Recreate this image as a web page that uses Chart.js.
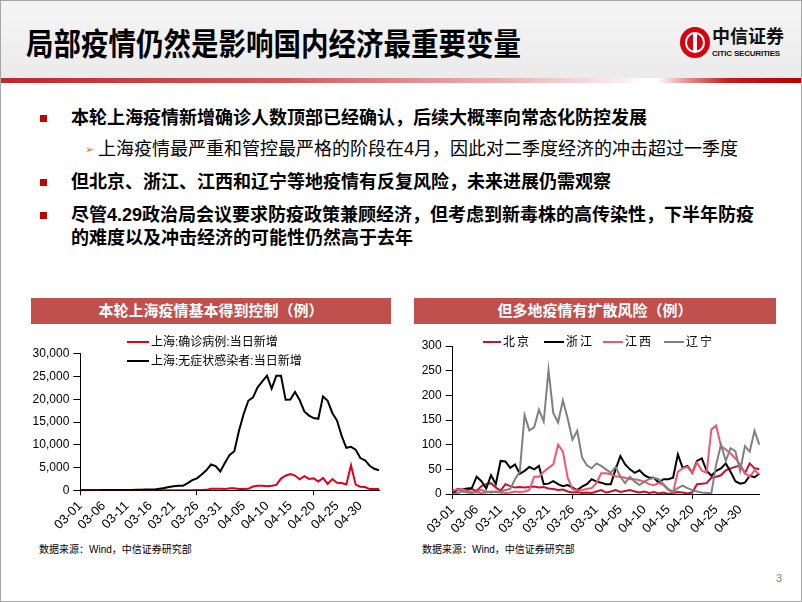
<!DOCTYPE html>
<html>
<head>
<meta charset="utf-8">
<script src="https://cdn.jsdelivr.net/npm/chart.js@4.4.1/dist/chart.umd.min.js"></script>
<style>
  html,body{margin:0;padding:0;background:#fff;}
  #slide{position:relative;width:800px;height:600px;border:1px solid #a6a6a6;overflow:hidden;background:#fff;
    font-family:"Liberation Sans","Noto Sans CJK SC",sans-serif;color:#000;}
  .abs{position:absolute;white-space:nowrap;}
  .bul{position:absolute;width:7px;height:7px;background:#c00000;left:39px;}
  .txt{position:absolute;left:70px;font-size:18px;line-height:24px;white-space:nowrap;}
  .b{font-weight:bold;}
  .bar{position:absolute;top:297px;height:26px;background:#c0504d;color:#fff;font-weight:bold;font-size:15px;line-height:26px;text-align:center;}
  .lg{position:absolute;font-size:12px;line-height:14px;white-space:nowrap;}
  .seg{position:absolute;height:2px;}
  .src{position:absolute;font-size:10px;line-height:12px;white-space:nowrap;color:#000;}
</style>
</head>
<body>
<div id="slide">
  <div class="abs" style="left:0;top:0;width:800px;height:77px;background:linear-gradient(#f5f5f5,#ebebeb);"></div>
  <div class="abs b" style="left:25px;top:27px;font-size:27.5px;line-height:30px;transform:scaleY(1.12);transform-origin:0 0;">局部疫情仍然是影响国内经济最重要变量</div>
  <div class="abs" style="left:0;top:77px;width:800px;height:5px;background:linear-gradient(to right,#c0272d 0%,#d0595c 35%,#ecb9ba 65%,#fbeeee 78%,#ffffff 80%,#ffffff 82%,#e08a8a 86%,#c41a1f 91%,#b80000 100%);"></div>
  <!-- logo -->
  <div class="abs" style="left:679px;top:26px;width:30px;height:31px;border-radius:50%;background:#d7000f;"></div>
  <div class="abs" style="left:684px;top:31px;width:20px;height:21px;border-radius:50%;border:2px solid #fff;box-sizing:border-box;"></div>
  <div class="abs" style="left:692px;top:32px;width:4px;height:19px;background:#fff;"></div>
  <div class="abs b" style="left:711px;top:26px;font-size:18px;line-height:20px;color:#111;">中信证券</div>
  <div class="abs b" style="left:711px;top:48px;font-size:8px;line-height:9px;color:#111;letter-spacing:-0.2px;">CITIC SECURITIES</div>

  <!-- bullets -->
  <div class="bul" style="top:114px;"></div>
  <div class="txt b" style="top:105px;">本轮上海疫情新增确诊人数顶部已经确认，后续大概率向常态化防控发展</div>
  <div class="abs" style="left:84px;top:140px;font-size:11px;line-height:16px;color:#e46c0a;">➢</div>
  <div class="txt" style="left:97px;top:136px;">上海疫情最严重和管控最严格的阶段在4月，因此对二季度经济的冲击超过一季度</div>
  <div class="bul" style="top:178px;"></div>
  <div class="txt b" style="top:169px;">但北京、浙江、江西和辽宁等地疫情有反复风险，未来进展仍需观察</div>
  <div class="bul" style="top:211px;"></div>
  <div class="txt b" style="top:202px;">尽管4.29政治局会议要求防疫政策兼顾经济，但考虑到新毒株的高传染性，下半年防疫</div>
  <div class="txt b" style="top:225px;">的难度以及冲击经济的可能性仍然高于去年</div>

  <!-- chart titles -->
  <div class="bar" style="left:30px;width:360px;">本轮上海疫情基本得到控制（例）</div>
  <div class="bar" style="left:413px;width:362px;">但多地疫情有扩散风险（例）</div>

  <!-- charts -->
  <div class="abs" style="left:20px;top:330px;width:370px;height:205px;"><canvas id="c1" width="370" height="205"></canvas></div>
  <div class="abs" style="left:400px;top:330px;width:375px;height:205px;"><canvas id="c2" width="375" height="205"></canvas></div>

  <!-- left legend -->
  <div class="seg" style="left:126px;top:340px;width:22px;background:#e0001b;"></div>
  <div class="lg" style="left:150px;top:334px;">上海:确诊病例:当日新增</div>
  <div class="seg" style="left:126px;top:359px;width:22px;background:#000;"></div>
  <div class="lg" style="left:150px;top:353px;">上海:无症状感染者:当日新增</div>

  <!-- right legend -->
  <div class="seg" style="left:482px;top:340px;width:18px;background:#c8102e;"></div>
  <div class="lg" style="left:502px;top:334px;letter-spacing:2px;">北京</div>
  <div class="seg" style="left:543px;top:340px;width:20px;background:#000;"></div>
  <div class="lg" style="left:565px;top:334px;letter-spacing:2px;">浙江</div>
  <div class="seg" style="left:602px;top:340px;width:20px;background:#f4566e;"></div>
  <div class="lg" style="left:624px;top:334px;letter-spacing:2px;">江西</div>
  <div class="seg" style="left:663px;top:340px;width:20px;background:#808080;"></div>
  <div class="lg" style="left:685px;top:334px;letter-spacing:2px;">辽宁</div>

  <div class="src" style="left:38px;top:543px;">数据来源：Wind，中信证券研究部</div>
  <div class="src" style="left:421px;top:543px;">数据来源：Wind，中信证券研究部</div>
  <div class="abs" style="left:775px;top:571px;font-size:11px;color:#7f7f7f;">3</div>
</div>

<script>
const dates = ["03-01","03-02","03-03","03-04","03-05","03-06","03-07","03-08","03-09","03-10",
"03-11","03-12","03-13","03-14","03-15","03-16","03-17","03-18","03-19","03-20",
"03-21","03-22","03-23","03-24","03-25","03-26","03-27","03-28","03-29","03-30","03-31",
"04-01","04-02","04-03","04-04","04-05","04-06","04-07","04-08","04-09","04-10",
"04-11","04-12","04-13","04-14","04-15","04-16","04-17","04-18","04-19","04-20",
"04-21","04-22","04-23","04-24","04-25","04-26","04-27","04-28","04-29","04-30",
"05-01","05-02","05-03","05-04"];

const shConfirmed = [1,0,1,1,3,3,1,3,4,11,5,1,41,9,5,8,57,8,17,24,31,4,4,29,38,45,50,96,326,355,358,
260,438,425,268,311,322,824,1015,1006,914,994,1189,2573,3200,3590,3238,2417,3084,2494,2634,
1931,2736,1401,2472,1661,1606,1292,5487,1249,788,727,274,260,261];
const shAsymptomatic = [1,3,2,16,28,45,51,62,76,64,78,64,128,130,197,150,203,366,492,734,865,977,979,1580,2231,2631,3450,4381,5656,5298,4144,
6051,7788,8581,13086,16766,19660,20398,22609,23937,25173,22348,25141,25146,19872,19923,21582,19831,17332,16407,15861,
15698,20634,19657,16983,15319,11956,9330,9545,8932,7084,6606,5395,4722,4390];

const beijing = [5,10,10,8,10,6,16,20,22,13,7,20,16,13,14,13,14,15,13,14,11,10,8,9,5,
3,4,2,3,2,5,8,3,5,8,4,6,8,5,3,5,2,4,1,3,0,2,4,3,1,3,20,21,22,33,35,38,48,52,55,58,42,62,52,50];
const zhejiang = [0,9,9,11,12,35,26,11,38,20,67,66,53,60,41,47,55,50,57,20,
21,26,20,16,18,13,8,15,20,30,25,23,20,20,50,77,60,50,43,48,
38,33,33,23,30,30,33,80,53,57,43,67,72,47,37,47,52,62,45,26,21,23,37,34,41];
const jiangxi = [7,9,10,6,4,3,2,3,5,4,3,2,3,5,4,5,8,35,35,45,
53,60,100,86,33,10,7,8,10,12,22,42,42,40,36,35,33,30,30,28,
25,20,18,22,18,8,3,45,52,55,43,64,47,43,131,139,97,90,82,72,60,42,35,48,40];
const liaoning = [0,2,5,3,2,5,8,5,3,5,5,8,10,30,45,160,129,135,171,147,
251,164,145,190,153,110,128,74,58,52,62,57,50,43,55,35,22,35,25,18,
25,30,33,30,20,10,5,12,17,12,8,5,3,2,2,60,100,67,93,87,47,97,86,128,100];

const yTicksLeft = {min:0, max:30000, step:5000};
const yTicksRight = {min:0, max:300, step:50};

Chart.defaults.font.family = "'Liberation Sans', Arial, sans-serif";
Chart.defaults.color = '#000';

function xAxis(h){
  return {
    type:'category',
    offset:false,
    ticks:{autoSkip:false, minRotation:45, maxRotation:45, padding:3, color:'#000', font:{size:13},
      callback:function(v,i){ return i%5===0 ? this.getLabelForValue(v) : null; }},
    grid:{drawOnChartArea:false, drawTicks:true, tickLength:5,
      color:(c)=> (c.index%5===0 ? '#000' : 'rgba(0,0,0,0)'), lineWidth:1},
    border:{display:true, color:'#000', width:1},
    afterFit:(s)=>{ s.height = h; }
  };
}
function yAxis(t, w, fmt){
  return {
    min:t.min, max:t.max,
    ticks:{stepSize:t.step, padding:4, color:'#000', font:{size:12}, callback:fmt},
    grid:{drawOnChartArea:false, drawTicks:true, tickLength:7, color:'#000', lineWidth:1},
    border:{display:true, color:'#000', width:1},
    afterFit:(s)=>{ s.width = w; }
  };
}
function ds(label, data, color, order){
  return {label, data, borderColor:color, backgroundColor:color, borderWidth:2, pointRadius:0, tension:0, fill:false, order};
}

new Chart(document.getElementById('c1'), {
  type:'line',
  data:{labels:dates, datasets:[
    ds('上海:确诊病例:当日新增', shConfirmed, '#e0001b', 2),
    ds('上海:无症状感染者:当日新增', shAsymptomatic, '#000000', 1)
  ]},
  options:{
    responsive:false, animation:false,
    layout:{padding:{top:22.7, right:12, bottom:0, left:0}},
    plugins:{legend:{display:false}, tooltip:{enabled:false}},
    scales:{x:xAxis(45.7), y:yAxis(yTicksLeft, 59.3, (v)=>Number(v).toLocaleString('en-US'))}
  }
});

new Chart(document.getElementById('c2'), {
  type:'line',
  data:{labels:dates, datasets:[
    ds('北京', beijing, '#c8102e', 4),
    ds('浙江', zhejiang, '#000000', 3),
    ds('江西', jiangxi, '#f4566e', 2),
    ds('辽宁', liaoning, '#808080', 1)
  ]},
  options:{
    responsive:false, animation:false,
    layout:{padding:{top:15, right:16.7, bottom:0, left:0}},
    plugins:{legend:{display:false}, tooltip:{enabled:false}},
    scales:{x:xAxis(42), y:yAxis(yTicksRight, 51.7, (v)=>String(v))}
  }
});
</script>
</body>
</html>
